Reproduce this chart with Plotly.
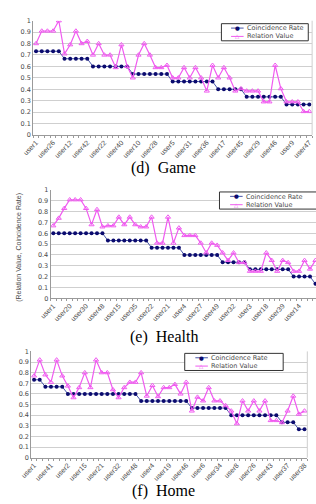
import plotly.graph_objects as go

# ---------------- data ----------------
game_labels = ["user1", "user26", "user12", "user42", "user22", "user40", "user10", "user28", "user5",
               "user31", "user36", "user17", "user45", "user29", "user46", "user9", "user47"]
game_coincidence = [0.733, 0.733, 0.733, 0.733, 0.733,
                    0.667, 0.667, 0.667, 0.667, 0.667,
                    0.6, 0.6, 0.6, 0.6, 0.6, 0.6, 0.6,
                    0.533, 0.533, 0.533, 0.533, 0.533, 0.533, 0.533,
                    0.467, 0.467, 0.467, 0.467, 0.467, 0.467, 0.467, 0.467,
                    0.4, 0.4, 0.4, 0.4, 0.4,
                    0.333, 0.333, 0.333, 0.333, 0.333, 0.333, 0.333,
                    0.267, 0.267, 0.267, 0.267, 0.267]
game_relation = [0.80, 0.91, 0.91, 0.91, 1.00, 0.71, 0.79, 0.91, 0.80, 0.82,
                 0.70, 0.80, 0.70, 0.70, 0.59, 0.79, 0.60, 0.50, 0.70, 0.80,
                 0.70, 0.59, 0.59, 0.61, 0.50, 0.50, 0.59, 0.50, 0.59, 0.50,
                 0.385, 0.61, 0.50, 0.59, 0.50, 0.385, 0.405, 0.385, 0.385, 0.385,
                 0.29, 0.29, 0.61, 0.405, 0.29, 0.29, 0.29, 0.205, 0.205]

health_labels = ["user1", "user20", "user30", "user48", "user15", "user35", "user22", "user21", "user4",
                 "user27", "user49", "user32", "user3", "user18", "user39", "user14", "user13"]
health_coincidence = [0.6, 0.6, 0.6, 0.6, 0.6, 0.6, 0.6, 0.6, 0.6, 0.6,
                      0.533, 0.533, 0.533, 0.533, 0.533, 0.533, 0.533, 0.533,
                      0.467, 0.467, 0.467, 0.467, 0.467, 0.467,
                      0.4, 0.4, 0.4, 0.4, 0.4, 0.4, 0.4,
                      0.333, 0.333, 0.333, 0.333, 0.333,
                      0.267, 0.267, 0.267, 0.267, 0.267, 0.267, 0.267, 0.267,
                      0.2, 0.2, 0.2, 0.2,
                      0.133]
health_relation = [0.67, 0.74, 0.83, 0.91, 0.91, 0.91, 0.83, 0.68, 0.82, 0.66,
                   0.67, 0.67, 0.75, 0.68, 0.75, 0.68, 0.66, 0.66, 0.75, 0.51,
                   0.51, 0.75, 0.51, 0.65, 0.58, 0.58, 0.58, 0.51, 0.42, 0.51,
                   0.49, 0.42, 0.35, 0.42, 0.33, 0.33, 0.25, 0.25, 0.25, 0.42,
                   0.35, 0.25, 0.35, 0.33, 0.25, 0.25, 0.35, 0.27, 0.35]

home_labels = ["user1", "user41", "user2", "user15", "user21", "user32", "user48", "user4", "user19",
               "user46", "user6", "user34", "user8", "user26", "user43", "user37", "user38"]
home_coincidence = [0.733, 0.733,
                    0.667, 0.667, 0.667, 0.667,
                    0.6, 0.6, 0.6, 0.6, 0.6, 0.6, 0.6, 0.6, 0.6, 0.6, 0.6, 0.6, 0.6,
                    0.533, 0.533, 0.533, 0.533, 0.533, 0.533, 0.533, 0.533, 0.533,
                    0.467, 0.467, 0.467, 0.467, 0.467, 0.467, 0.467,
                    0.4, 0.4, 0.4, 0.4, 0.4, 0.4, 0.4, 0.4, 0.4,
                    0.333, 0.333, 0.333,
                    0.267, 0.267]
home_relation = [0.77, 0.92, 0.78, 0.71, 0.92, 0.77, 0.675, 0.565, 0.66, 0.80,
                 0.66, 0.92, 0.80, 0.80, 0.64, 0.565, 0.66, 0.71, 0.71, 0.80,
                 0.58, 0.68, 0.575, 0.66, 0.66, 0.69, 0.60, 0.71, 0.44, 0.57,
                 0.535, 0.66, 0.535, 0.535, 0.49, 0.44, 0.32, 0.535, 0.44, 0.535,
                 0.44, 0.535, 0.35, 0.35, 0.33, 0.44, 0.58, 0.41, 0.44]

captions = ["(d)\u00a0 Game", "(e)\u00a0 Health", "(f)\u00a0 Home"]
series_names = ["Coincidence Rate", "Relation Value"]
y_ticks = [0, 0.1, 0.2, 0.3, 0.4, 0.5, 0.6, 0.7, 0.8, 0.9, 1]
y_ticktext = ["0", "0.1", "0.2", "0.3", "0.4", "0.5", "0.6", "0.7", "0.8", "0.9", "1"]

# ---------------- style ----------------
W, H = 316, 504
NAVY = "#0b0b6e"
NAVY_LINE = "#4654a8"
PINK = "#f05af0"
GRID = "#cfcfcf"
AXIS = "#9a9a9a"
TXT = "#4a4a4a"
FONT = "Liberation Sans"
LEG_FONT = "DejaVu Sans"
LEG_SIZE = 6.5
LINE_H = LEG_SIZE * 1.3


def px(v):
    return v / W


def py(v):
    return 1 - v / H


panels = [
    dict(labels=game_labels, coin=game_coincidence, rel=game_relation,
         x0=23, x1=312, ytop=17, ybot=133, xr=[-0.5, 48.5],
         box=(218, 20, 308), samp=(228, 241), cap=167),
    dict(labels=health_labels, coin=health_coincidence, rel=health_relation,
         x0=41, x1=316, ytop=189, ybot=299, xr=[-0.5, 48.1],
         box=(216, 191, 322), samp=(227, 240), cap=338),
    dict(labels=home_labels, coin=home_coincidence, rel=home_relation,
         x0=21, x1=307, ytop=353, ybot=461, xr=[-0.5, 48.5],
         box=(180, 355, 282), samp=(191, 204), cap=495),
]

fig = go.Figure()
annotations = []
shapes = []
layout = dict(width=W, height=H, margin=dict(l=0, r=0, t=0, b=0),
              paper_bgcolor="white", plot_bgcolor="white", showlegend=False,
              font=dict(family=FONT, size=8, color=TXT))

for k, p in enumerate(panels):
    sfx = "" if k == 0 else str(k + 1)
    xa, ya = "x" + sfx, "y" + sfx
    n = len(p["coin"])
    xs = list(range(n))
    fig.add_trace(go.Scatter(
        x=xs, y=p["coin"], xaxis=xa, yaxis=ya, name=series_names[0],
        mode="lines+markers", line=dict(color=NAVY_LINE, width=1),
        marker=dict(color=NAVY, size=4, symbol="circle")))
    fig.add_trace(go.Scatter(
        x=xs, y=p["rel"], xaxis=xa, yaxis=ya, name=series_names[1],
        mode="lines+markers", line=dict(color=PINK, width=1.2),
        marker=dict(color=PINK, size=4.5, symbol="triangle-up-open", line=dict(width=1, color=PINK))))
    layout["xaxis" + sfx] = dict(
        domain=[px(p["x0"]), px(p["x1"])], anchor=ya, range=p["xr"],
        tickmode="array", tickvals=xs[::3], ticktext=p["labels"], tickangle=-45,
        tickfont=dict(size=7, color=TXT, family=FONT), ticks="", showgrid=False,
        zeroline=False, showline=True, linecolor=AXIS, linewidth=1,
        minor=dict(ticks="outside", ticklen=2, tickcolor=AXIS, tick0=-0.5, dtick=1, showgrid=False))
    layout["yaxis" + sfx] = dict(
        domain=[py(p["ybot"]), py(p["ytop"])], anchor=xa, range=[0, 1],
        tickmode="array", tickvals=y_ticks, ticktext=y_ticktext,
        tickfont=dict(size=6.5, color=TXT, family=LEG_FONT), ticks="",
        showgrid=True, gridcolor=GRID, gridwidth=1, zeroline=False,
        showline=True, linecolor=AXIS, linewidth=1)

    # plot-area right border
    if p["x1"] < W:
        shapes.append(dict(type="line", xref="paper", yref="paper",
                           x0=px(p["x1"]), x1=px(p["x1"]), y0=py(p["ybot"]), y1=py(p["ytop"]),
                           line=dict(color=GRID, width=1)))

    # compact Excel-style legend (box, sample lines, glyphs, one two-line text)
    bx0, by0, bx1 = p["box"]
    by1 = by0 + 2 * LINE_H + 0.5
    shapes.append(dict(type="rect", xref="paper", yref="paper",
                       x0=px(bx0), x1=px(bx1), y0=py(by1), y1=py(by0),
                       line=dict(color="#333333", width=1), fillcolor="white", layer="above"))
    s0, s1 = p["samp"]
    styles = [(NAVY_LINE, NAVY, "\u25CF", 5.5), (PINK, PINK, "\u25B3", 5.5)]
    for r in range(2):
        yc = by0 + 0.25 + LINE_H * (r + 0.5)
        lc, mc, glyph, gs = styles[r]
        shapes.append(dict(type="line", xref="paper", yref="paper",
                           x0=px(s0), x1=px(s1), y0=py(yc), y1=py(yc),
                           line=dict(color=lc, width=1), layer="above"))
        annotations.append(dict(text=glyph, x=px((s0 + s1) / 2), y=py(yc), xref="paper", yref="paper",
                                xanchor="center", yanchor="middle", showarrow=False, borderpad=0,
                                font=dict(size=gs, color=mc, family="DejaVu Sans")))
    annotations.append(dict(text="<br>".join(series_names), x=px(s1 + 2), y=py(by0 + (by1 - by0) / 2),
                            xref="paper", yref="paper", xanchor="left", yanchor="middle",
                            align="left", showarrow=False, borderpad=0,
                            font=dict(size=LEG_SIZE, color=TXT, family=LEG_FONT)))

    annotations.append(dict(
        text=captions[k], x=0.5, y=py(p["cap"]), xref="paper", yref="paper",
        xanchor="center", yanchor="middle", showarrow=False,
        font=dict(family="Liberation Serif", size=16, color="black")))

annotations.append(dict(
    text="(Relation Value, Coincidence Rate)", x=px(8), y=py(247),
    xref="paper", yref="paper", xanchor="center", yanchor="middle",
    textangle=-90, showarrow=False, font=dict(family=FONT, size=7, color=TXT)))

layout["annotations"] = annotations
layout["shapes"] = shapes
fig.update_layout(**layout)
fig.write_html("out.html")
